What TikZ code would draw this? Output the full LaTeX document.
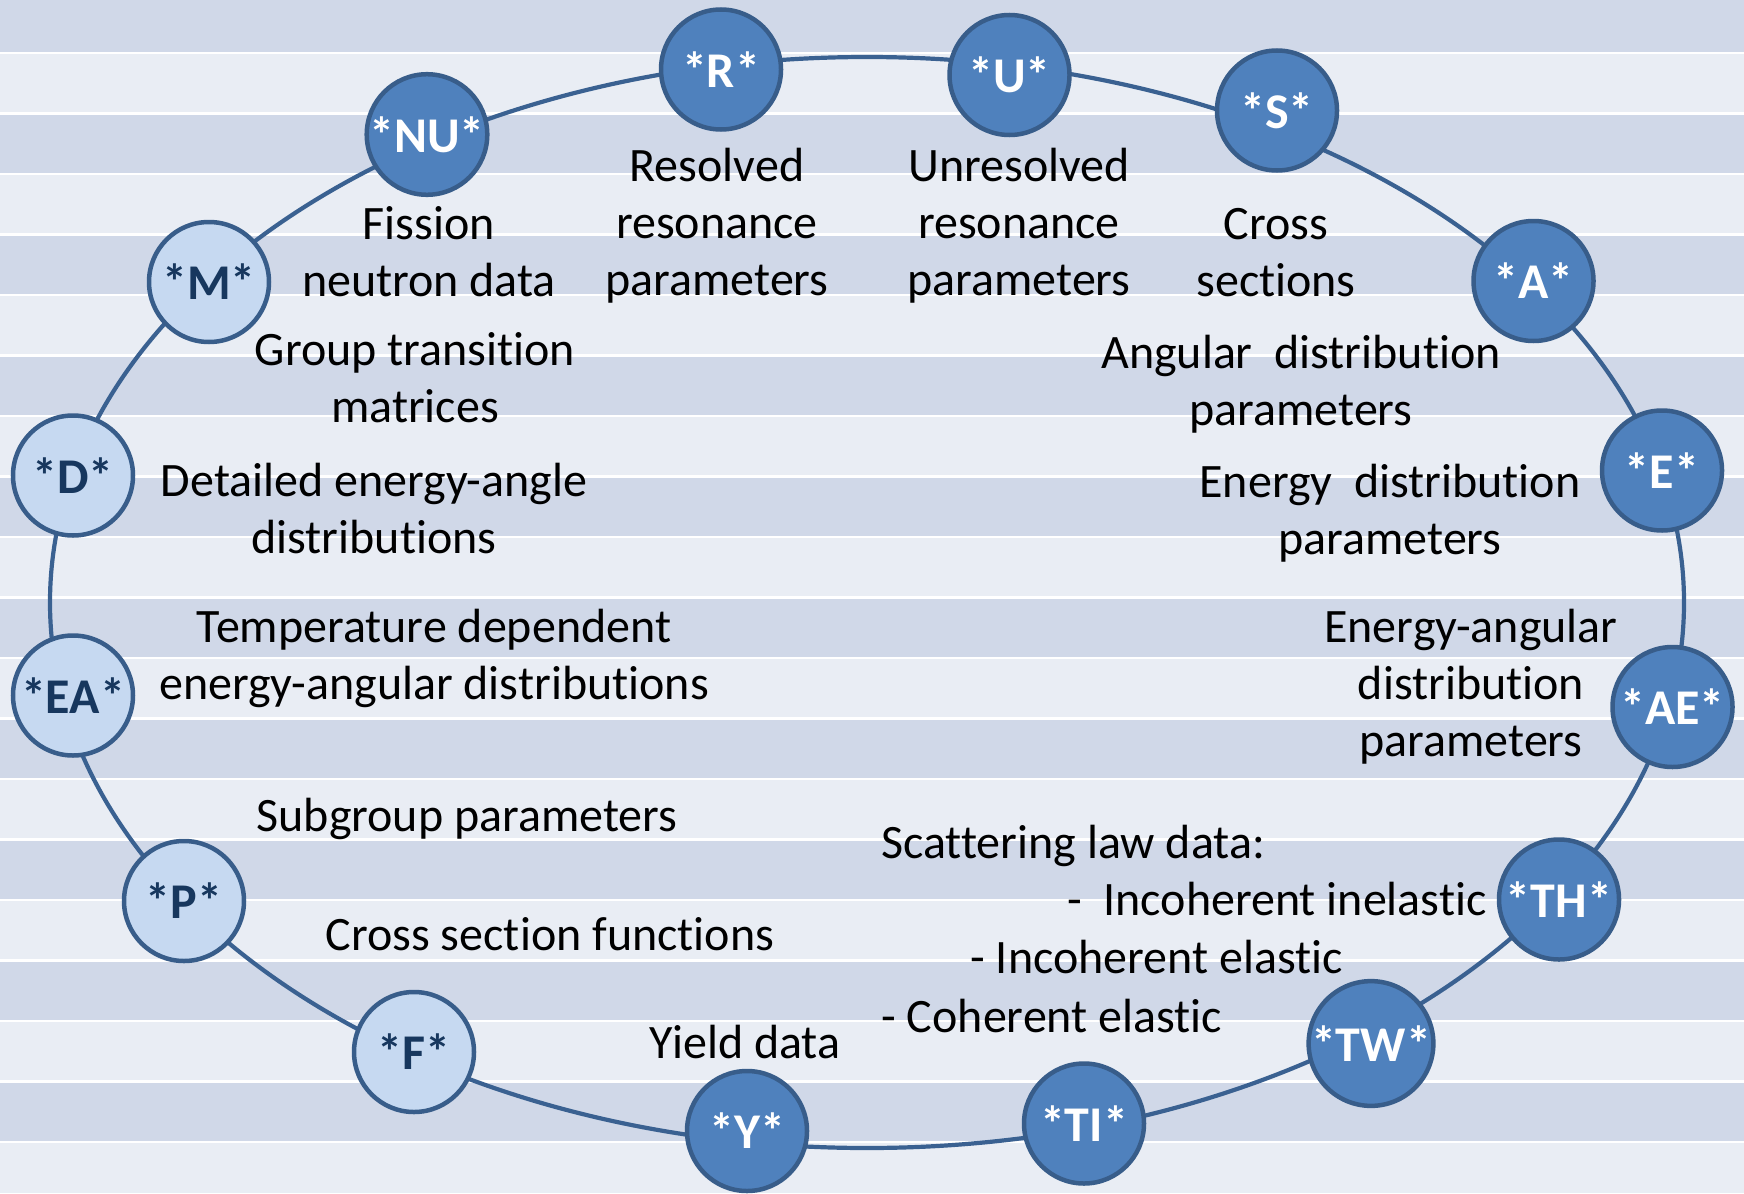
\documentclass[tikz,border=0pt]{standalone}
\usepackage{fontspec}
\setmainfont{Carlito}[Ligatures={NoCommon}]
\usetikzlibrary{shapes.geometric}
\definecolor{bandD}{HTML}{D0D8E8}
\definecolor{bandL}{HTML}{E9EDF4}
\definecolor{ringC}{HTML}{3A6191}
\definecolor{nodeB}{HTML}{385D8A}
\definecolor{darkFill}{HTML}{4F81BD}
\definecolor{lightFill}{HTML}{C6D9F1}
\definecolor{lightText}{HTML}{17375E}
\begin{document}
\begin{tikzpicture}[x=0.5pt,y=-0.5pt,
  dnode/.style={circle, draw=nodeB, line width=2.25pt, fill=darkFill, minimum size=60pt, inner sep=0pt, text=white, font=\bfseries\fontsize{25}{28}\selectfont},
  lnode/.style={dnode, fill=lightFill, text=lightText},
  lbl/.style={font=\fontsize{24}{28.5}\selectfont, align=center, inner sep=0pt, anchor=base},
  lblw/.style={font=\fontsize{24}{28.5}\selectfont, inner sep=0pt, anchor=base west},
  lble/.style={font=\fontsize{24}{28.5}\selectfont, inner sep=0pt, anchor=base east},
  ringstyle/.style={ellipse, draw=ringC, line width=2.1pt, inner sep=0pt, minimum width=817pt, minimum height=545.5pt},
  sep/.style={white, line width=1.25pt}]
\useasboundingbox (0,0) rectangle (1744,1193);
% background stripes
\fill[bandD] (0,0) rectangle (1744,53);
\foreach \k [evaluate=\k as \t using {53+(\k-1)*60.5}, evaluate=\k as \b using {min(53+\k*60.5,1193)}] in {1,...,19} {
  \ifodd\k \def\bc{bandL}\else\def\bc{bandD}\fi
  \fill[\bc] (0,\t) rectangle (1744,\b);
}
\foreach \k [evaluate=\k as \t using {53+(\k-1)*60.5}] in {1,...,19} {
  \draw[sep] (0,\t) -- (1744,\t);
}
% ring
\node[ringstyle] (ring) at (867,602.5) {};
% nodes
\node[dnode] (NU) at (427,134.5) {*NU*};
\node[dnode] (R) at (721,69.5) {*R*};
\node[dnode] (U) at (1009.5,75) {*U*};
\node[dnode] (S) at (1277,110.5) {*S*};
\node[dnode] (A) at (1533.5,281) {*A*};
\node[dnode] (E) at (1662,470.5) {*E*};
\node[dnode] (AE) at (1672.5,707) {*AE*};
\node[dnode] (TH) at (1559,899.5) {*TH*};
\node[dnode] (TW) at (1371,1043.5) {*TW*};
\node[dnode] (TI) at (1084,1123.5) {*TI*};
\node[dnode] (Y) at (747,1131) {*Y*};
\node[lnode] (F) at (414,1052) {*F*};
\node[lnode] (P) at (184,901) {*P*};
\node[lnode] (EA) at (73,695.5) {*EA*};
\node[lnode] (D) at (73,475.5) {*D*};
\node[lnode] (M) at (209,282) {*M*};
% labels (base = baseline of last line)
\node[lbl] (tNU) at (429,296) {Fission\\neutron data};
\node[lbl] (tR) at (717,295) {Resolved\\resonance\\parameters};
\node[lbl] (tU) at (1019,295) {Unresolved\\resonance\\parameters};
\node[lbl] (tS) at (1276,296) {Cross\\sections};
\node[lbl] (tM) at (415,422) {Group transition\\matrices};
\node[lbl] (tA) at (1301,425) {Angular\ \ distribution\\parameters};
\node[lbl] (tD) at (374,553) {Detailed energy-angle\\distributions};
\node[lbl] (tE) at (1390,554) {Energy\ \ distribution\\parameters};
\node[lbl] (tEA) at (434,699) {Temperature dependent\\energy-angular distributions};
\node[lbl] (tAE) at (1471,756) {Energy-angular\\distribution\\parameters};
\node[lbl] (tP) at (467,831) {Subgroup parameters};
\node[lbl] (tF) at (550,950) {Cross section functions};
\node[lbl] (tY) at (745,1058) {Yield data};
\node[lblw] (tT0) at (881,858) {Scattering law data:};
\node[lble] (tT1) at (1487,915) {-\ \ Incoherent inelastic};
\node[lblw] (tT2) at (970,973) {- Incoherent elastic};
\node[lblw] (tT3) at (881,1032) {- Coherent elastic};
\end{tikzpicture}
\end{document}
